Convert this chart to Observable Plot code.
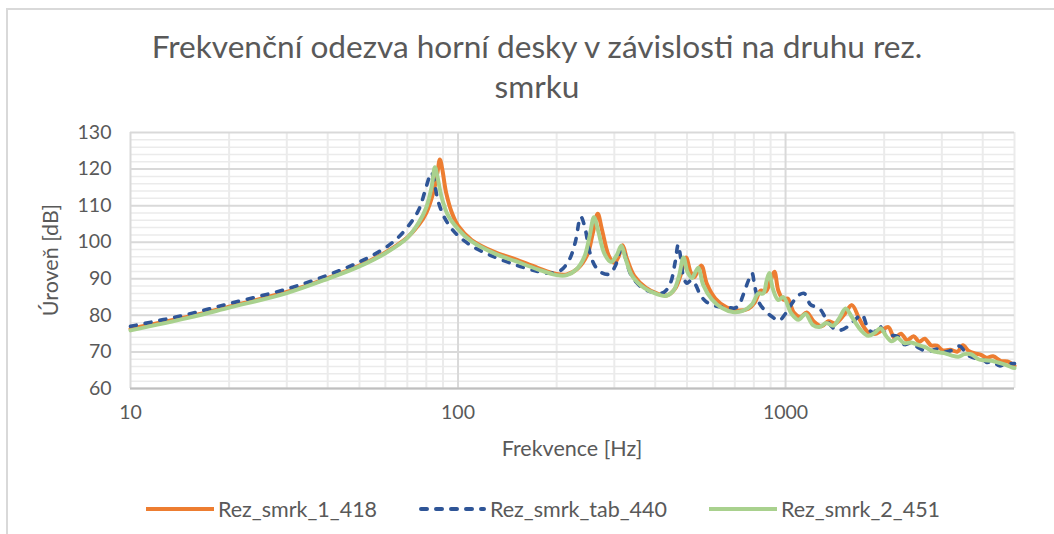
<!DOCTYPE html>
<html>
<head>
<meta charset="utf-8">
<script src="https://cdn.jsdelivr.net/npm/d3@7"></script>
<script src="https://cdn.jsdelivr.net/npm/@observablehq/plot@0.6"></script>
<style>
  body { margin: 0; background: #fff; font-family: Lato, "Open Sans", sans-serif; }
  #wrap { position: relative; width: 1054px; height: 534px; overflow: hidden; background: #fff; }
  #frame { position: absolute; left: 6px; top: 8px; width: 1100px; height: 600px; border: 2px solid #d9d9d9; }
  #title { position: absolute; left: 0; width: 1074px; top: 26px; text-align: center; font-size: 31.6px; line-height: 40px; color: #595959; }
  #chart { position: absolute; left: 0; top: 100px; }
  .axtitle { position: absolute; font-size: 21.5px; color: #595959; white-space: nowrap; line-height: 26px; }
  #xtitle { left: 572px; top: 435px; transform: translateX(-50%); }
  #ytitle { left: 50px; top: 260px; transform: translate(-50%, -50%) rotate(-90deg); }
  .leg { position: absolute; top: 496px; height: 26px; display: flex; align-items: center; font-size: 21.5px; color: #595959; }
  .leg svg { margin-right: 4px; }
</style>
</head>
<body>
<div id="wrap">
  <div id="frame"></div>
  <div id="title">Frekvenční odezva horní desky v závislosti na druhu rez.<br>smrku</div>
  <div id="chart"></div>
  <div id="xtitle" class="axtitle">Frekvence [Hz]</div>
  <div id="ytitle" class="axtitle">Úroveň [dB]</div>
  <div id="legend"></div>
</div>
<script>
// ---- series names / styles ----
const seriesNames = ["Rez_smrk_1_418", "Rez_smrk_tab_440", "Rez_smrk_2_451"];
const seriesColors = ["#ED7D31", "#2F5597", "#A9D18E"];

// ---- Rez_smrk_1_418 (orange) ----
const freq1 = [10,15,20,30,40,50,60,70,76,80,84,86.5,88,89.5,92,96,100,110,130,150,175,200,215,232,248,258,267,275,288,300,309,318,327,345,375,405,435,460,480,497,512,525,540,554,575,610,660,720,770,805,840,870,900,925,950,985,1015,1060,1110,1160,1220,1290,1350,1420,1510,1595,1680,1780,1870,1960,2060,2150,2250,2350,2460,2560,2660,2780,2900,3020,3180,3350,3480,3620,3780,3950,4100,4300,4550,4750,5000];
const level1 = [76.3,79.6,82.4,86.4,90.2,93.6,97.2,101.3,104.8,108,113.5,119,122.6,120,113.5,107.8,104.5,100.6,97.2,95.3,93.0,91.3,91.2,92.8,96.5,102.5,107.8,103.5,96.5,94.3,96,99.2,95.8,90.8,87.5,86.0,85.5,87.3,91.5,95.8,92,90.4,92.2,93.6,88.6,84.6,82.2,81.3,81.8,83.5,86.8,86.5,89.5,91.9,86.8,84.3,84.6,80.8,79.6,80.8,78.3,77.0,78.4,77.8,80.2,82.8,79,75.5,74.9,75.8,76.8,73.8,75,73.2,74.3,72.8,73.6,71.8,71.7,70.4,70.6,70.1,71.8,70.3,69.6,69.2,68.4,68.8,67.5,67.4,66.2];

// ---- Rez_smrk_tab_440 (blue dashed) ----
const freqTab = [10,15,20,30,40,50,60,66,72,76,79,81.5,83,84.5,86.5,90,95,100,110,125,150,175,190,205,218,228,237,244,252,262,275,290,302,312,318,326,340,370,400,425,445,460,470,478,488,500,515,530,550,575,620,665,700,720,745,770,790,805,830,870,910,955,1000,1050,1100,1140,1190,1235,1280,1330,1400,1460,1540,1630,1710,1790,1860,1930,2000,2100,2200,2310,2420,2530,2650,2780,2900,3020,3150,3280,3400,3520,3650,3800,3950,4100,4300,4500,4700,5000];
const levelTab = [77.0,80.3,83.2,87.2,91.0,94.6,98.5,101.5,105.5,109,113.5,117.5,119,117,112,107.5,104,101.8,99,96.5,93.8,92.0,91.5,92.2,95,100,107,104,97.5,93.5,91.6,91.3,93.5,97.5,98.6,95,90.5,87.2,86.2,86.3,88.8,94.5,99.3,96,90.5,88.8,89.6,88.5,85.5,83.6,82.4,82.2,82.0,82.8,86,89.5,91.5,88,83.5,81.1,79.6,78.6,80.5,83.5,85.6,86,83,82.3,81.5,79,76.5,75.9,76.8,78.8,80.2,76.2,75.3,77.2,75.5,74.6,74.2,72,72.5,71.3,70.4,70.3,70.8,70.0,70.2,70.8,71.6,70.2,68.8,68.3,68.4,67.2,67.3,66.2,66.8,66.8];

// ---- Rez_smrk_2_451 (green) ----
const freq2 = [10,15,20,30,40,50,60,70,76,80,83,85,86.5,89,93,100,110,130,150,175,200,215,230,243,252,260,268,280,293,305,315,324,340,370,405,430,455,472,488,502,518,530,542,560,595,640,690,740,790,825,855,875,892,915,950,985,1040,1095,1150,1210,1270,1330,1400,1460,1525,1600,1700,1790,1870,1950,2030,2110,2200,2300,2420,2540,2670,2800,2930,3070,3220,3370,3520,3700,3880,4050,4250,4460,4680,4900,5000];
const level2 = [75.9,79.3,82.1,86.1,90.0,93.4,97.0,101.2,105.5,109.5,115,120.5,118,112.5,107.5,103.6,100.2,96.8,94.8,92.6,91.0,91.0,92.6,96,101.5,106.8,103,96.8,94.6,96.4,99,95.8,90.8,87.5,85.8,85.3,86.8,90.5,95.8,91.8,90.2,91.8,93,88.4,84.4,82.0,80.9,81.2,83,86,86,89.4,91.6,87.2,84.2,85,80.6,78.8,80.4,77.4,76.8,77.9,77.2,79.3,81.9,79.3,75.9,74.4,75.2,76.5,74.3,72.9,73.8,72.4,72.6,71.9,71.3,70.3,69.9,69.6,69.0,68.7,69.4,69.3,68.0,67.7,67.6,67.1,66.5,65.8,65.6];

// ---- axis ticks ----
const xMajorTicks = [10, 100, 1000];
const xMinorTicks = [20,30,40,50,60,70,80,90,200,300,400,500,600,700,800,900,2000,3000,4000,5000];
const yMajorTicks = [60,70,80,90,100,110,120,130];
const yMinorTicks = [62,64,66,68,72,74,76,78,82,84,86,88,92,94,96,98,102,104,106,108,112,114,116,118,122,124,126,128];

const toRows = (fs, ls, name) => fs.map((f, i) => ({f, l: ls[i], s: name}));
const rows1 = toRows(freq1, level1, seriesNames[0]);
const rowsTab = toRows(freqTab, levelTab, seriesNames[1]);
const rows2 = toRows(freq2, level2, seriesNames[2]);

const font = 'Lato, "Open Sans", sans-serif';

const chart = Plot.plot({
  width: 1054,
  height: 360,
  marginLeft: 130,
  marginRight: 40,
  marginTop: 32,
  marginBottom: 72,
  style: { fontFamily: font, fontSize: "19.5px", color: "#595959", background: "transparent" },
  x: { type: "log", domain: [10, 5000] },
  y: { domain: [60, 130] },
  marks: [
    Plot.ruleY(yMinorTicks, { stroke: "#ebebeb", strokeWidth: 1.5 }),
    Plot.ruleX(xMinorTicks, { stroke: "#ebebeb", strokeWidth: 2 }),
    Plot.ruleY(yMajorTicks, { stroke: "#d9d9d9", strokeWidth: 2 }),
    Plot.ruleX(xMajorTicks, { stroke: "#d9d9d9", strokeWidth: 2 }),
    Plot.ruleY([60], { stroke: "#bfbfbf", strokeWidth: 2 }),
    Plot.axisX({ ticks: xMajorTicks, tickFormat: d => String(d), tickSize: 0, tickPadding: 17, label: null, fill: "#595959" }),
    Plot.axisY({ ticks: yMajorTicks, tickSize: 0, tickPadding: 19, label: null, fill: "#595959" }),
    Plot.line(rows1, { x: "f", y: "l", stroke: seriesColors[0], strokeWidth: 4, curve: "catmull-rom", strokeLinejoin: "round" }),
    Plot.line(rowsTab, { x: "f", y: "l", stroke: seriesColors[1], strokeWidth: 3.6, curve: "catmull-rom", strokeDasharray: "6,9", strokeLinecap: "round" }),
    Plot.line(rows2, { x: "f", y: "l", stroke: seriesColors[2], strokeWidth: 4, curve: "catmull-rom", strokeLinejoin: "round" })
  ]
});
document.getElementById("chart").appendChild(chart);

// ---- legend ----
const legendLeft = [146, 418, 709];
const legend = document.getElementById("legend");
seriesNames.forEach((name, i) => {
  const item = document.createElement("div");
  item.className = "leg";
  item.style.left = legendLeft[i] + "px";
  const dash = i === 1 ? 'stroke-dasharray="6,9" stroke-linecap="round"' : '';
  item.innerHTML = `<svg width="68" height="10"><line x1="${i===1?3:0}" y1="5" x2="${i===1?66:68}" y2="5" stroke="${seriesColors[i]}" stroke-width="4" ${dash}/></svg><span>${name}</span>`;
  legend.appendChild(item);
});
</script>
</body>
</html>
